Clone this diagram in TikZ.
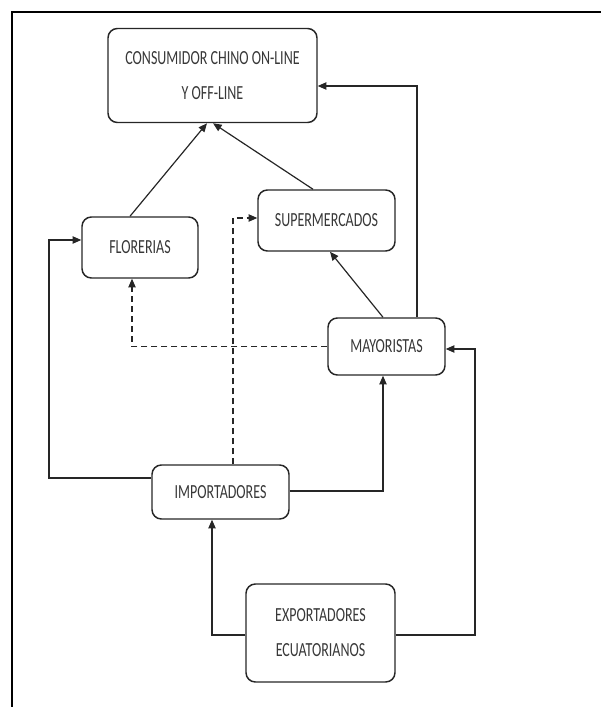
\documentclass[tikz,border=0pt]{standalone}
\usepackage{fontspec}
\usepackage{graphicx}
\setmainfont{Carlito}
\usetikzlibrary{arrows.meta}

\newcommand{\apretado}[1]{\scalebox{0.7}[1]{#1}}

\tikzset{every picture/.style={line width=0.75pt}}
\tikzset{caja/.style={draw=black!85, line width=1.1pt, rounded corners=7pt, align=center, inner sep=0.75pt,
    text=black!78, font=\fontsize{15}{26.25}\selectfont},
  flecha/.style={draw=black!85, line width=0.9pt, -{Triangle[length=6.5pt,width=5.5pt]}},
  flechapunt/.style={flecha, dash pattern=on 4.5pt off 3pt}}

\begin{document}
\begin{tikzpicture}[x=0.75pt,y=0.75pt,yscale=-1,xscale=1]
\useasboundingbox (0,0) rectangle (601,707);

%Shape: Frame
\draw [line width=2.2pt] (12,707) -- (12,12) -- (601,12) ;

%Shape: Rounded Rect
\draw (212.5,75.5) node [caja, minimum width=156.75pt, minimum height=70.5pt] (cons) {\apretado{CONSUMIDOR CHINO ON-LINE}\\\apretado{Y OFF-LINE}};
%Shape: Rounded Rect
\draw (140,247.5) node [caja, minimum width=87pt, minimum height=45.75pt] (flor) {\apretado{FLORERIAS}};
%Shape: Rounded Rect
\draw (326.5,220.5) node [caja, minimum width=102.75pt, minimum height=45.75pt] (super) {\apretado{SUPERMERCADOS}};
%Shape: Rounded Rect
\draw (386.5,346.5) node [caja, minimum width=87.75pt, minimum height=42.75pt] (mayor) {\apretado{MAYORISTAS}};
%Shape: Rounded Rect
\draw (220.5,492) node [caja, minimum width=102.75pt, minimum height=40.5pt] (impor) {\apretado{IMPORTADORES}};
%Shape: Rounded Rect
\draw (320.5,633) node [caja, minimum width=111.75pt, minimum height=73.5pt] (expor) {\apretado{EXPORTADORES}\\\apretado{ECUATORIANOS}};

%Straight Lines
\draw [flecha] (130,0 |- flor.north) -- (207,0 |- cons.south) ;
%Straight Lines
\draw [flecha] (313,0 |- super.north) -- (213,0 |- cons.south) ;
%Straight Lines
\draw [flecha] (417,0 |- mayor.north) |- (cons.east |- 0,86) ;
%Straight Lines
\draw [flecha] (383,0 |- mayor.north) -- (330,0 |- super.south) ;
%Straight Lines
\draw [flechapunt] (mayor.west) -| (132,0 |- flor.south) ;
%Straight Lines
\draw [flechapunt] (233,0 |- impor.north) |- (super.west |- 0,218) ;
%Straight Lines
\draw [flecha] (impor.west |- 0,478) -| (49,240) -- (flor.west |- 0,240) ;
%Straight Lines
\draw [flecha] (impor.east |- 0,491) -| (383,0 |- mayor.south) ;
%Straight Lines
\draw [flecha] (expor.west |- 0,635) -| (212,0 |- impor.south) ;
%Straight Lines
\draw [flecha] (expor.east |- 0,635) -| (475,349) -- (mayor.east |- 0,349) ;

\end{tikzpicture}
\end{document}
